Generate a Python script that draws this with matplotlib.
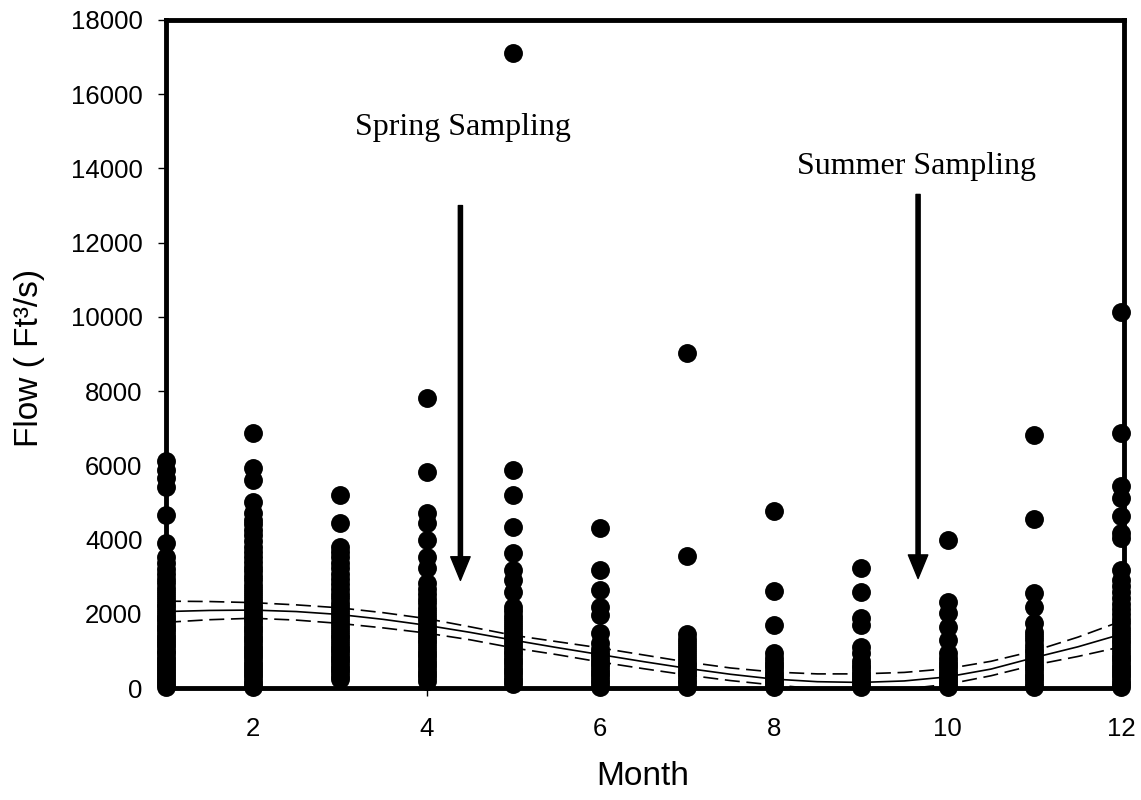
import matplotlib
matplotlib.use("Agg")
import matplotlib.pyplot as plt

plt.rcParams['font.family'] = ['Liberation Sans', 'DejaVu Sans']

flow_by_month = {
    1: [40, 110, 190, 270, 350, 430, 510, 590, 670, 760, 840, 930, 1010, 1100, 1180,
        1270, 1350, 1440, 1530, 1620, 1710, 1800, 1890, 1980, 2080, 2170, 2270, 2380,
        2480, 2590, 2700, 2820, 2950, 3080, 3220, 3380, 3530, 3900, 4660, 5420, 5660,
        5870, 6110],
    2: [40, 120, 200, 290, 370, 460, 540, 630, 710, 800, 880, 970, 1050, 1140, 1230,
        1320, 1410, 1500, 1590, 1680, 1770, 1860, 1950, 2050, 2150, 2250, 2350, 2450,
        2560, 2670, 2780, 2900, 3020, 3140, 3270, 3400, 3530, 3670, 3810, 3960, 4110,
        4270, 4430, 4530, 4710, 5010, 5600, 5930, 6870],
    3: [250, 330, 420, 510, 600, 690, 780, 870, 960, 1050, 1140, 1240, 1340, 1440,
        1540, 1640, 1740, 1850, 1960, 2070, 2180, 2300, 2420, 2540, 2670, 2800, 2940,
        3080, 3230, 3380, 3530, 3670, 3800, 4450, 5190],
    4: [200, 290, 380, 470, 560, 650, 740, 830, 920, 1010, 1100, 1200, 1300, 1400,
        1500, 1600, 1710, 1820, 1930, 2040, 2160, 2280, 2400, 2530, 2680, 2830, 3230,
        3530, 3990, 4440, 4710, 5810, 7820],
    5: [100, 190, 280, 370, 460, 550, 640, 730, 820, 910, 1010, 1110, 1210, 1310,
        1410, 1510, 1620, 1730, 1840, 1950, 2070, 2180, 2590, 2910, 3180, 3640, 4350,
        5200, 5870, 17100],
    6: [40, 130, 220, 310, 400, 490, 580, 670, 760, 850, 950, 1050, 1210, 1480, 1970,
        2180, 2640, 3180, 4320],
    7: [40, 130, 220, 310, 400, 490, 580, 680, 780, 880, 990, 1100, 1210, 1320, 1450,
        3570, 9040],
    8: [30, 110, 190, 270, 350, 440, 530, 620, 710, 800, 940, 1690, 2610, 4780],
    9: [30, 110, 190, 270, 350, 440, 530, 620, 720, 940, 1110, 1700, 1890, 2590,
        3240],
    10: [30, 110, 190, 270, 350, 440, 530, 620, 710, 800, 940, 1290, 1650, 2020,
         2320, 4000],
    11: [30, 120, 210, 300, 390, 480, 570, 660, 760, 860, 960, 1060, 1170, 1280,
         1400, 1520, 1750, 2190, 2560, 4550, 6820],
    12: [40, 120, 200, 290, 370, 460, 540, 630, 720, 810, 900, 1000, 1100, 1200,
         1300, 1410, 1520, 1630, 1750, 1870, 2000, 2130, 2270, 2420, 2580, 2740, 2910,
         3180, 4050, 4180, 4640, 5120, 5450, 6880, 10120],
}

# fitted seasonal curve and its confidence band, read at half-month steps
fit_month = [1, 1.5, 2, 2.5, 3, 3.5, 4, 4.5, 5, 5.5, 6, 6.5, 7, 7.5, 8, 8.5, 9, 9.5,
             10, 10.5, 11, 11.5, 12]
fit_mid = [2060, 2090, 2100, 2060, 1980, 1850, 1690, 1500, 1290, 1090, 900, 710, 530,
           370, 240, 170, 150, 190, 300, 510, 820, 1110, 1450]
fit_upper = [2340, 2330, 2300, 2240, 2160, 2030, 1870, 1650, 1420, 1250, 1080, 890,
             700, 540, 430, 380, 380, 420, 520, 720, 1000, 1370, 1800]
fit_lower = [1770, 1840, 1880, 1830, 1740, 1620, 1480, 1300, 1080, 900, 700, 520, 350,
             200, 80, -20, -60, -30, 100, 330, 620, 850, 1110]

fig = plt.figure(figsize=(11.41, 8.0), dpi=100)
ax = fig.add_axes([0.1455, 0.14, 0.8395, 0.835])

for m, vals in flow_by_month.items():
    ax.scatter([m] * len(vals), vals, s=185, color='black', linewidths=0,
               zorder=5, clip_on=False)

ax.plot(fit_month, fit_mid, color='black', lw=1.2, zorder=3)
ax.plot(fit_month, fit_upper, color='black', lw=1.2, dashes=(9, 4), zorder=3)
ax.plot(fit_month, fit_lower, color='black', lw=1.2, dashes=(9, 4), zorder=3)

arrow = dict(facecolor='black', edgecolor='black', width=3, headwidth=14,
             headlength=17, shrink=0)
ax.annotate('', xy=(4.39, 2900), xytext=(4.39, 13000), arrowprops=arrow)
ax.annotate('', xy=(9.66, 2950), xytext=(9.66, 13300), arrowprops=arrow)
ax.text(4.42, 15100, 'Spring Sampling', family='Liberation Serif', fontsize=23,
        ha='center', va='center')
ax.text(9.64, 14050, 'Summer Sampling', family='Liberation Serif', fontsize=23,
        ha='center', va='center')

ax.set_xlim(1, 12.03)
ax.set_ylim(0, 18000)
ax.set_xticks([2, 4, 6, 8, 10, 12])
ax.set_yticks(range(0, 18001, 2000))
ax.tick_params(direction='out', length=6, width=1, labelsize=18.5)
ax.tick_params(axis='x', pad=15)
ax.tick_params(axis='y', pad=11)
for sp in ax.spines.values():
    sp.set_linewidth(3.5)

ax.set_xlabel('Month', fontsize=24, va='center')
ax.set_ylabel('Flow ( Ft\u00b3/s)', fontsize=24, va='center')
ax.xaxis.set_label_coords(0.498, -0.132)
ax.yaxis.set_label_coords(-0.142, 0.494)

fig.savefig('out.png', dpi=100)
